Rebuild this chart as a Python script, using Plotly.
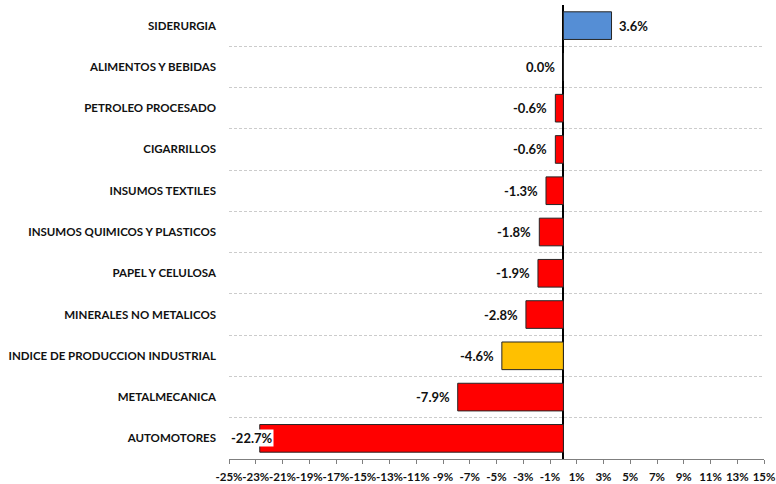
import plotly.graph_objects as go

categories = ["SIDERURGIA", "ALIMENTOS Y BEBIDAS", "PETROLEO PROCESADO", "CIGARRILLOS",
              "INSUMOS TEXTILES", "INSUMOS QUIMICOS Y PLASTICOS", "PAPEL Y CELULOSA",
              "MINERALES NO METALICOS", "INDICE DE PRODUCCION INDUSTRIAL",
              "METALMECANICA", "AUTOMOTORES"]
values = [3.6, 0.0, -0.6, -0.6, -1.3, -1.8, -1.9, -2.8, -4.6, -7.9, -22.7]
colors = ["#558ED5", "#558ED5", "#FF0000", "#FF0000", "#FF0000", "#FF0000", "#FF0000",
          "#FF0000", "#FFC000", "#FF0000", "#FF0000"]
tick_values = list(range(-25, 16, 2))
tick_labels = [f"{v}%" for v in tick_values]

# plot bottom-to-top
cats = categories[::-1]
vals = values[::-1]
cols = colors[::-1]

FONT = "Lato"
TXT = "#111111"

fig = go.Figure()
fig.add_trace(go.Bar(
    y=cats, x=vals, orientation="h",
    marker=dict(color=cols, line=dict(color="#262626", width=1)),
    width=0.67, hoverinfo="skip",
))

annotations = []
xmin, xmax = -25, 15
for c, v in zip(cats, vals):
    label = f"{v:.1f}%"
    if v > 0:
        annotations.append(dict(x=v, y=c, text=label, xanchor="left", xshift=5,
                                showarrow=False))
    elif v <= xmin + 3:
        annotations.append(dict(x=xmin, y=c, text=label, xanchor="left", xshift=1,
                                showarrow=False, bgcolor="white", borderpad=0))
    else:
        annotations.append(dict(x=v, y=c, text=label, xanchor="right", xshift=-6,
                                showarrow=False))
for a in annotations:
    a["font"] = dict(family=FONT, size=13, color=TXT, weight="bold")

fig.update_layout(
    width=776, height=484,
    margin=dict(l=229, r=12, t=5, b=25),
    paper_bgcolor="white", plot_bgcolor="white",
    showlegend=False,
    annotations=annotations,
    font=dict(family=FONT, size=12, color=TXT, weight="bold"),
    xaxis=dict(
        range=[xmin, xmax], tickvals=tick_values, ticktext=tick_labels,
        tickangle=0, automargin=False,
        showgrid=False, zeroline=True, zerolinecolor="black", zerolinewidth=2,
        showline=True, linecolor="#7f7f7f", linewidth=1,
        ticks="outside", ticklen=4, tickcolor="#7f7f7f", ticklabelstandoff=3,
        tickfont=dict(family=FONT, size=11.5, color=TXT, weight="bold"),
        fixedrange=True,
    ),
    yaxis=dict(
        type="category", categoryorder="array", categoryarray=cats,
        range=[-0.5, len(cats) - 0.5], automargin=False,
        tickson="boundaries", showgrid=True, gridcolor="#cccccc", griddash="3px,2px",
        gridwidth=1, ticks="", ticklabelstandoff=12,
        tickfont=dict(family=FONT, size=11.5, color=TXT, weight="bold"),
        showline=False, zeroline=False, fixedrange=True,
    ),
)

fig.write_html(
    "out.html",
    config={"displayModeBar": False},
    post_script="document.body.style.margin='0';document.body.style.padding='0';",
)
